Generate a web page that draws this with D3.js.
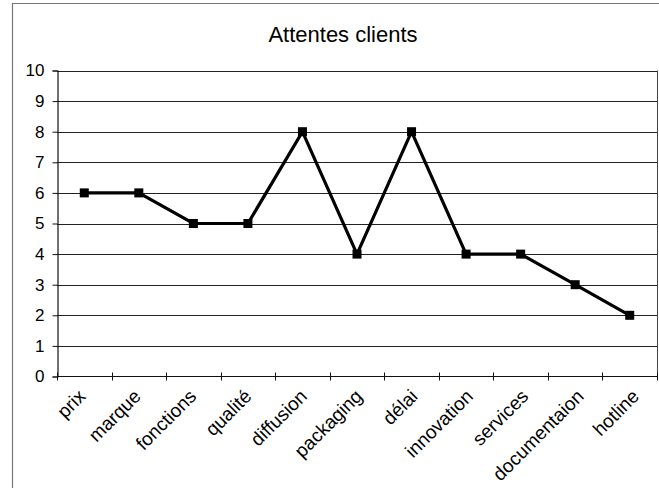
<!DOCTYPE html>
<html>
<head>
<meta charset="utf-8">
<script src="https://cdn.jsdelivr.net/npm/d3@7/dist/d3.min.js"></script>
<style>
  html, body { margin: 0; padding: 0; background: #fff; }
  svg { display: block; font-family: "Liberation Sans", Arial, Helvetica, sans-serif; }
</style>
</head>
<body>
<svg id="chart" width="659" height="488"></svg>
<script>
// Customer expectation scores per criterion
const categories = ["prix", "marque", "fonctions", "qualité", "diffusion", "packaging",
                    "délai", "innovation", "services", "documentaion", "hotline"];
const scores = [6, 6, 5, 5, 8, 4, 8, 4, 4, 3, 2];
const yTicks = [0, 1, 2, 3, 4, 5, 6, 7, 8, 9, 10];
const chartTitle = "Attentes clients";

const svg = d3.select("#chart");
const W = 659, H = 488;
const plot = { left: 57, right: 657, top: 70.5, bottom: 376.5 };

// Chart frame
svg.append("path")
  .attr("d", `M12.5,${H} V3.5 H${W}`)
  .attr("fill", "none")
  .attr("stroke", "#777")
  .attr("stroke-width", 1.2);

// Title
svg.append("text")
  .attr("x", 343)
  .attr("y", 42)
  .attr("text-anchor", "middle")
  .attr("font-size", 22)
  .attr("fill", "#000")
  .text(chartTitle);

const x = d3.scaleBand().domain(categories).range([plot.left, plot.right]);
const y = d3.scaleLinear().domain([0, 10]).range([plot.bottom, plot.top]);
// Label slots run slightly wider than the category bands
const xLabel = d3.scaleBand().domain(categories).range([plot.left + 2, plot.right + 11]);

// Horizontal grid lines
svg.append("g")
  .selectAll("line")
  .data(yTicks.filter(d => d > 0))
  .join("line")
  .attr("x1", plot.left).attr("x2", plot.right)
  .attr("y1", d => Math.round(y(d)) + 0.5).attr("y2", d => Math.round(y(d)) + 0.5)
  .attr("stroke", "#222")
  .attr("stroke-width", 1);

// Right edge of the plot area
svg.append("line")
  .attr("x1", plot.right + 0.5).attr("x2", plot.right + 0.5)
  .attr("y1", plot.top).attr("y2", plot.bottom)
  .attr("stroke", "#444")
  .attr("stroke-width", 1);

// Y axis
const yAxis = svg.append("g")
  .attr("transform", `translate(${plot.left + 0.5},0)`)
  .call(d3.axisLeft(y).tickValues(yTicks).tickFormat(d3.format("d")).tickSize(5).tickPadding(8));
yAxis.select(".domain").attr("stroke", "#111").attr("stroke-width", 1.2);
yAxis.selectAll(".tick line").attr("stroke", "#111");
yAxis.selectAll(".tick text")
  .attr("font-size", 17)
  .attr("font-family", "Liberation Sans, Arial, sans-serif")
  .attr("fill", "#000");

// X axis: ticks at category boundaries crossing the axis line
const bounds = categories.map(c => x(c)).concat([plot.right]);
const xAxisG = svg.append("g");
xAxisG.append("line")
  .attr("x1", plot.left).attr("x2", plot.right)
  .attr("y1", Math.round(plot.bottom) - 0.5).attr("y2", Math.round(plot.bottom) - 0.5)
  .attr("stroke", "#111").attr("stroke-width", 1.2);
xAxisG.selectAll("line.tk")
  .data(bounds)
  .join("line")
  .attr("class", "tk")
  .attr("x1", d => Math.round(d) + 0.5).attr("x2", d => Math.round(d) + 0.5)
  .attr("y1", plot.bottom - 4).attr("y2", plot.bottom + 4)
  .attr("stroke", "#111");

// Rotated category labels, ending at the slot centre
xAxisG.selectAll("text")
  .data(categories)
  .join("text")
  .attr("transform", d => `translate(${xLabel(d) + xLabel.bandwidth() / 2},${plot.bottom + 21}) rotate(-45)`)
  .attr("text-anchor", "end")
  .attr("font-size", 19)
  .attr("fill", "#000")
  .text(d => d);

// Series line
const cx = (d, i) => x(categories[i]) + x.bandwidth() / 2;
const line = d3.line().x((d, i) => cx(d, i)).y(d => y(d));
svg.append("path")
  .datum(scores)
  .attr("d", line)
  .attr("fill", "none")
  .attr("stroke", "#000")
  .attr("stroke-width", 3.2)
  .attr("stroke-linejoin", "miter");

// Square markers
const ms = 9;
svg.append("g")
  .selectAll("rect")
  .data(scores)
  .join("rect")
  .attr("x", (d, i) => cx(d, i) - ms / 2)
  .attr("y", d => y(d) - ms / 2)
  .attr("width", ms)
  .attr("height", ms)
  .attr("fill", "#000");
</script>
</body>
</html>
